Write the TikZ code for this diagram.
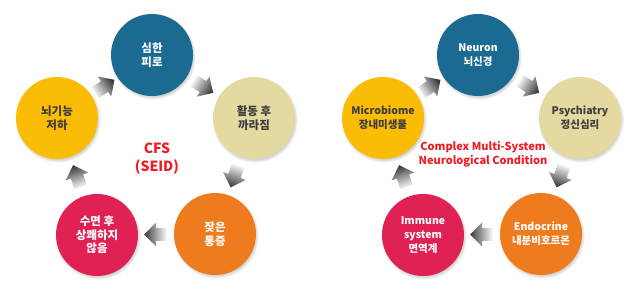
\documentclass[tikz,border=0pt]{standalone}
\usepackage{fontspec}
\setmainfont{Noto Sans CJK KR}
\usetikzlibrary{calc,shadows}
\definecolor{blueC}{HTML}{1A6A92}
\definecolor{beigeC}{HTML}{E5D9A2}
\definecolor{yellowC}{HTML}{FBBC05}
\definecolor{orangeC}{HTML}{EE7B1E}
\definecolor{redC}{HTML}{E02153}
\definecolor{darktxt}{HTML}{3C3C3C}
\definecolor{redtxt}{HTML}{EE1C25}
\definecolor{arrowdark}{HTML}{3A3A3A}
\newcommand{\blockarrow}[4]{%
  \begin{scope}[shift={($(#1)!.5!(#2)$)}, rotate=#3]
    \shade[top color=arrowdark, bottom color=white, shading angle=#4]
      (-11,-6.5) -- (0,-6.5) -- (0,-12) -- (12,0) -- (0,12) -- (0,6.5) -- (-11,6.5) -- cycle;
  \end{scope}}
\begin{document}
\begin{tikzpicture}[x=1pt,y=1pt,
  circ/.style={circle, minimum size=82pt, inner sep=0pt, align=center, font=\bfseries\fontsize{11.5}{13.5}\selectfont,
    circular drop shadow={shadow scale=1.05, shadow xshift=0.8pt, shadow yshift=-1.6pt, opacity=0.55}},
  circR/.style={circ, font=\bfseries\fontsize{10.5}{14}\selectfont},
  title/.style={text=redtxt, align=center}]
\path[use as bounding box, fill=white] (0,0) rectangle (640,292);
% left cycle
\node[circ, fill=blueC, text=white] (l1) at (152,237) {심한\\피로};
\node[circ, fill=beigeC, text=darktxt] (l2) at (254,174) {활동 후\\까라짐};
\node[circ, fill=orangeC, text=white] (l3) at (215,58) {잦은\\통증};
\node[circ, fill=redC, text=white] (l4) at (97,57) {수면 후\\상쾌하지\\않음};
\node[circ, fill=yellowC, text=darktxt] (l5) at (57,174) {뇌기능\\저하};
\blockarrow{l5}{l1}{34}{-56}
\blockarrow{l1}{l2}{-32}{-122}
\blockarrow{l2}{l3}{-109}{-199}
\blockarrow{l3}{l4}{180}{90}
\blockarrow{l4}{l5}{109}{19}
\node[title, font=\bfseries\fontsize{14}{18}\selectfont] (cfs) at (157,133) {CFS\\(SEID)};
% right cycle
\node[circR, fill=blueC, text=white] (r1) at (478,237) {Neuron\\뇌신경};
\node[circR, fill=beigeC, text=darktxt] (r2) at (580,174) {Psychiatry\\정신심리};
\node[circR, fill=orangeC, text=white] (r3) at (541,58) {Endocrine\\내분비호르몬};
\node[circR, fill=redC, text=white] (r4) at (423,57) {Immune\\system\\면역계};
\node[circR, fill=yellowC, text=darktxt] (r5) at (383,174) {Microbiome\\장내미생물};
\blockarrow{r5}{r1}{34}{-56}
\blockarrow{r1}{r2}{-32}{-122}
\blockarrow{r2}{r3}{-109}{-199}
\blockarrow{r3}{r4}{180}{90}
\blockarrow{r4}{r5}{109}{19}
\node[title, font=\bfseries\fontsize{11}{14}\selectfont] (cmx) at (483,138) {Complex Multi-System\\Neurological Condition};
\end{tikzpicture}
\end{document}
